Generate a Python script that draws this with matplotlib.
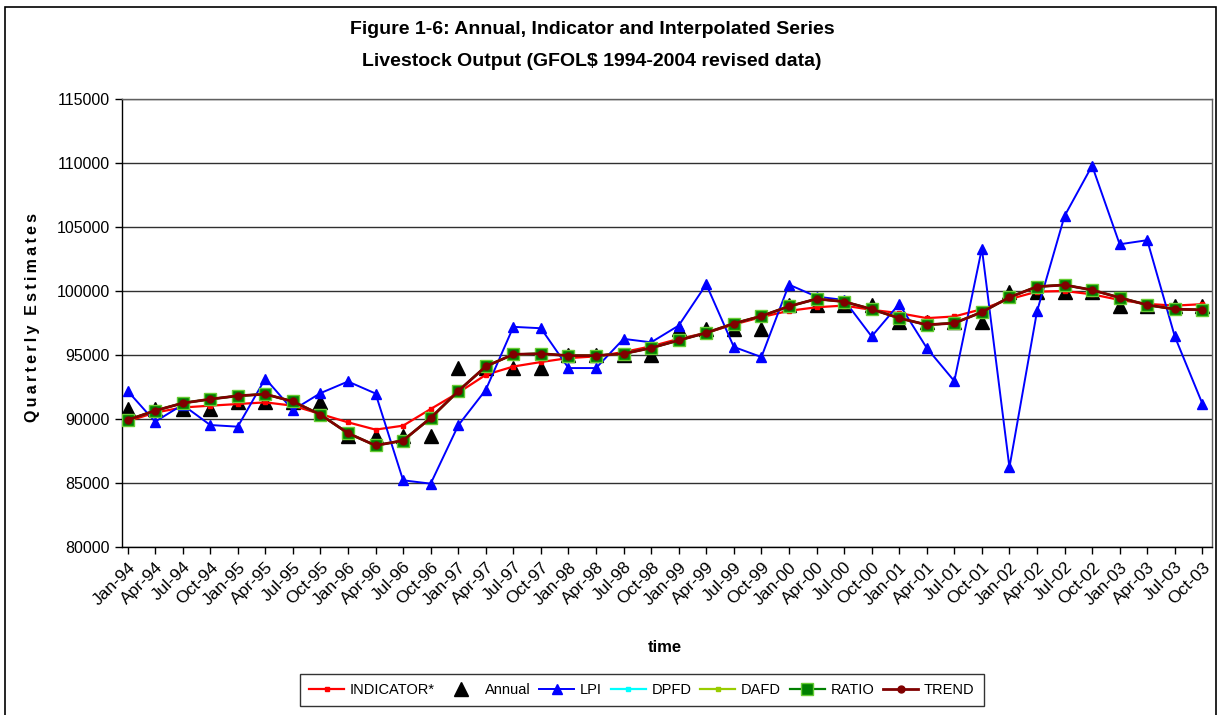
import matplotlib
matplotlib.use("Agg")
import matplotlib.pyplot as plt
from matplotlib.patches import Rectangle

quarters = ["Jan", "Apr", "Jul", "Oct"]
years = ["94", "95", "96", "97", "98", "99", "00", "01", "02", "03"]
labels = [f"{q}-{y}" for y in years for q in quarters]

indicator = [89820, 90500, 90900, 91040, 91170, 91300, 91040, 90390, 89740, 89170,
             89480, 90780, 92050, 93450, 94100, 94450, 94760, 94890, 95230, 95680,
             96260, 96730, 97380, 97960, 98450, 98730, 98860, 98530, 98270, 97880,
             98010, 98580, 99360, 99950, 100000, 99740, 99300, 98990, 98860, 98970]

annual = [90800, 90800, 90800, 90800, 91300, 91300, 91300, 91300, 88700, 88700,
          88700, 88700, 94000, 94000, 94000, 94000, 95000, 95000, 95000, 95000,
          97000, 97000, 97000, 97000, 98900, 98900, 98900, 98900, 97600, 97600,
          97600, 97600, 99900, 99900, 99900, 99900, 98800, 98800, 98800, 98800]

lpi = [92200, 89790, 91110, 89530, 89400, 93160, 90700, 92020, 92930, 91990,
       85210, 84950, 89500, 92280, 97200, 97090, 93980, 93980, 96260, 95990,
       97300, 100520, 95630, 94840, 100500, 99560, 99300, 96450, 98990, 95550,
       92960, 103320, 86220, 98400, 105860, 109790, 103650, 103970, 96450, 91200]

dpfd = [89920, 90650, 91240, 91550, 91810, 91940, 91370, 90340, 88890, 87930,
        88320, 90080, 92180, 94110, 95050, 95100, 94950, 94950, 95100, 95550,
        96150, 96730, 97460, 98040, 98800, 99380, 99170, 98580, 97880, 97360,
        97490, 98350, 99510, 100340, 100470, 100080, 99480, 98910, 98580, 98530]
dafd = list(dpfd)
ratio = list(dpfd)
trend = list(dpfd)

x = list(range(len(labels)))

W, H = 1218, 715
fig = plt.figure(figsize=(W / 100, H / 100), dpi=100)
fig.patch.set_facecolor("white")
fig.add_artist(Rectangle((5 / W, -10 / H), 1211 / W, (H - 7 + 10) / H, transform=fig.transFigure,
                         fill=False, edgecolor="black", linewidth=1.2))

ax = fig.add_axes([122 / W, 1 - 547 / H, (1212 - 122) / W, (547 - 99) / H])

fam = ["Liberation Sans", "DejaVu Sans"]

ax.set_ylim(80000, 115000)
ax.set_xlim(-0.2, len(labels) - 0.65)
ax.set_yticks(range(80000, 115001, 5000))
ax.yaxis.grid(True, color="#303030", linewidth=1)
ax.set_axisbelow(True)

ax.plot(x, indicator, color="#ff0000", linewidth=1.6, marker="s", markersize=3.5, label="INDICATOR*", zorder=3)
ax.plot(x, annual, linestyle="none", marker="^", markersize=10, color="black", label="Annual", zorder=2)
ax.plot(x, lpi, color="#0000ff", linewidth=1.4, marker="^", markersize=7, label="LPI", zorder=4)
ax.plot(x, dpfd, color="#00ffff", linewidth=1.6, marker="s", markersize=3, label="DPFD", zorder=5)
ax.plot(x, dafd, color="#99cc00", linewidth=1.6, marker="s", markersize=3, label="DAFD", zorder=6)
ax.plot(x, ratio, color="#008000", linewidth=1.6, marker="s", markersize=9,
        markeredgecolor="#66cc33", markeredgewidth=1, label="RATIO", zorder=7)
ax.plot(x, trend, color="#800000", linewidth=2, marker="o", markersize=5, label="TREND", zorder=8)

ax.set_xticks(x)
ax.set_xticklabels(labels, rotation=45, ha="right", va="top", rotation_mode="anchor",
                   fontsize=12.5, family=fam)
for t in ax.get_yticklabels():
    t.set_fontsize(11.5)
    t.set_family(fam)
ax.tick_params(axis="both", direction="out", length=5, width=1, color="black", pad=4)

for s in ax.spines.values():
    s.set_color("#606060")
    s.set_linewidth(1)
ax.spines["left"].set_color("black")
ax.spines["bottom"].set_color("black")

fig.text(592 / W, 1 - 29 / H, "Figure 1-6: Annual, Indicator and Interpolated Series",
         ha="center", va="center", fontsize=14, fontweight="bold", family=fam)
fig.text(592 / W, 1 - 61 / H, "Livestock Output (GFOL$ 1994-2004 revised data)",
         ha="center", va="center", fontsize=14, fontweight="bold", family=fam)
fig.text(665 / W, 1 - 647 / H, "time", ha="center", va="center", fontsize=12,
         fontweight="bold", family=fam)
ylab = "\u2009".join("Quarterly") + "\u2009\u2009\u2009" + "\u2009".join("Estimates")
fig.text(33 / W, 1 - 318 / H, ylab, ha="center", va="center",
         rotation=90, fontsize=11.5, fontweight="bold", family=fam)

leg = fig.legend(loc="center", bbox_to_anchor=(642 / W, 1 - 690 / H), ncol=7, frameon=True,
                 fancybox=False, edgecolor="black", handlelength=2.4,
                 handletextpad=0.4, columnspacing=0.6, borderpad=0.65,
                 prop={"family": fam, "size": 10.5})
leg.get_frame().set_linewidth(1)

fig.savefig("out.png", dpi=100)
